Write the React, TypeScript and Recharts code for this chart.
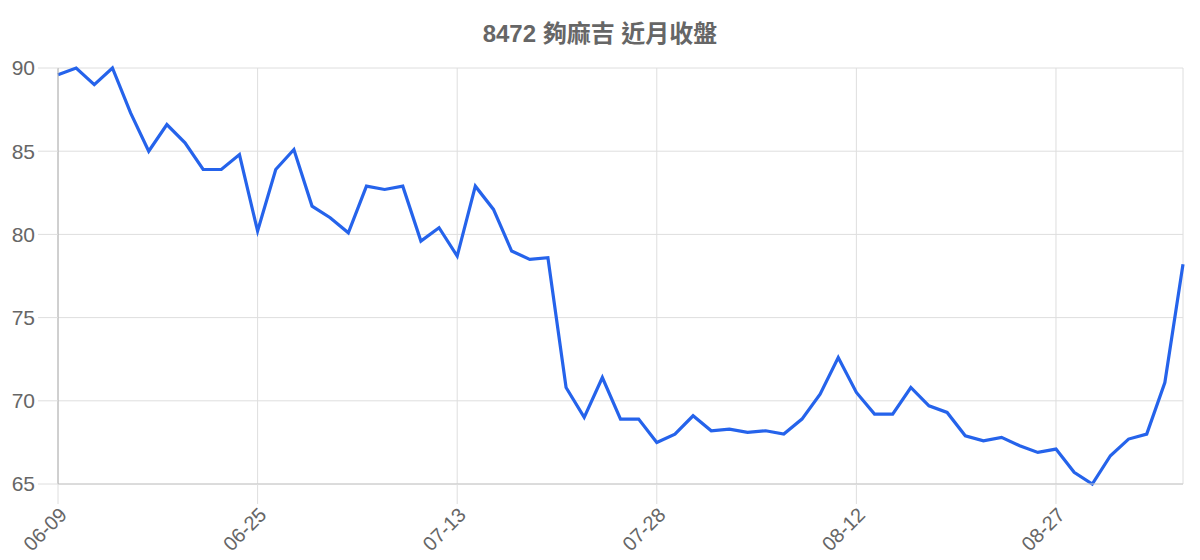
import React from "react";
import {
  LineChart,
  Line,
  XAxis,
  YAxis,
  CartesianGrid,
} from "recharts";

// trading days shown on the x axis (only every 11th label is drawn)
const dates = [
  "06-09", "06-10", "06-11", "06-15", "06-16", "06-17", "06-18", "06-21", "06-22", "06-23",
  "06-24", "06-25", "06-28", "06-29", "06-30", "07-01", "07-02", "07-05", "07-06", "07-07",
  "07-08", "07-09", "07-13", "07-14", "07-15", "07-16", "07-19", "07-20", "07-21", "07-22",
  "07-23", "07-26", "07-27", "07-28", "07-29", "07-30", "08-02", "08-03", "08-04", "08-05",
  "08-06", "08-09", "08-10", "08-11", "08-12", "08-13", "08-16", "08-17", "08-18", "08-19",
  "08-20", "08-23", "08-24", "08-25", "08-26", "08-27", "08-30", "08-31", "09-01", "09-02",
  "09-03", "09-06", "09-07",
];

// 近月收盤
const closes = [
  89.6, 90.0, 89.0, 90.0, 87.3, 85.0, 86.6, 85.5, 83.9, 83.9,
  84.8, 80.2, 83.9, 85.1, 81.7, 81.0, 80.1, 82.9, 82.7, 82.9,
  79.6, 80.4, 78.7, 82.9, 81.5, 79.0, 78.5, 78.6, 70.8, 69.0,
  71.4, 68.9, 68.9, 67.5, 68.0, 69.1, 68.2, 68.3, 68.1, 68.2,
  68.0, 68.9, 70.4, 72.6, 70.5, 69.2, 69.2, 70.8, 69.7, 69.3,
  67.9, 67.6, 67.8, 67.3, 66.9, 67.1, 65.7, 65.0, 66.7, 67.7,
  68.0, 71.1, 78.2,
];

const yTicks = [65, 70, 75, 80, 85, 90];

const data = dates.map((d, i) => ({ date: d, close: closes[i] }));

const font = "'Liberation Sans', Arial, 'Noto Sans CJK TC', sans-serif";

export default function App() {
  return (
    <div
      style={{
        position: "absolute",
        left: 0,
        top: 0,
        width: 1200,
        height: 560,
        background: "#fff",
        fontFamily: font,
      }}
    >
      <div
        style={{
          position: "absolute",
          top: 21,
          left: 0,
          width: 1200,
          textAlign: "center",
          fontSize: 24,
          lineHeight: "26px",
          fontWeight: "bold",
          color: "#666",
        }}
      >
        8472 夠麻吉 近月收盤
      </div>
      <LineChart
        width={1200}
        height={560}
        data={data}
        margin={{ top: 68, right: 17, left: 8, bottom: 0 }}
      >
        <CartesianGrid stroke="#dedede" strokeWidth={1} />
        <XAxis
          dataKey="date"
          interval={10}
          height={76}
          tickSize={20}
          tickMargin={2}
          angle={-45}
          textAnchor="end"
          tick={{ fill: "#666", fontSize: 20, fontFamily: font }}
          tickLine={{ stroke: "#dedede" }}
          axisLine={{ stroke: "#c8c8c8" }}
        />
        <YAxis
          width={50}
          domain={[65, 90]}
          ticks={yTicks}
          tickSize={20}
          tickMargin={3}
          tick={{ fill: "#666", fontSize: 21, fontFamily: font }}
          tickLine={{ stroke: "#dedede" }}
          axisLine={{ stroke: "#b0b0b0" }}
        />
        <Line
          type="linear"
          dataKey="close"
          stroke="#2563eb"
          strokeWidth={3.2}
          dot={false}
          isAnimationActive={false}
        />
      </LineChart>
    </div>
  );
}
